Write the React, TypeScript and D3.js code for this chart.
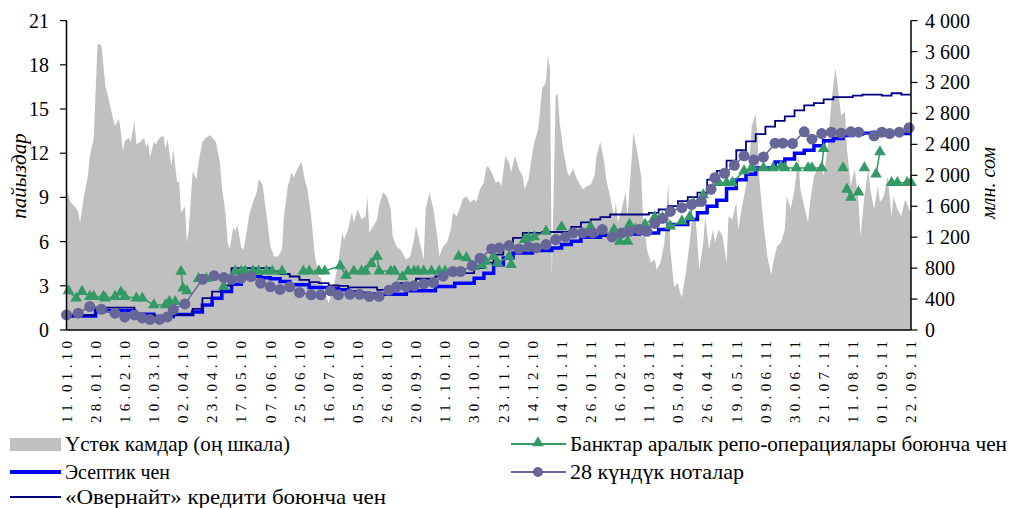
import React from 'react';
import * as d3 from 'd3';

const W = 1010;
const H = 508;

// x-axis: trading-day index, one label every 15 trading days
const tickLabels = ['11.01.10','28.01.10','16.02.10','10.03.10','02.04.10','23.04.10','17.05.10','07.06.10','25.06.10','16.07.10','05.08.10','26.08.10','20.09.10','11.10.10','30.10.10','23.11.10','14.12.10','04.01.11','26.01.11','16.02.11','11.03.11','05.04.11','26.04.11','19.05.11','09.06.11','30.06.11','21.07.11','11.08.11','01.09.11','22.09.11'];
const daysPerTick = 15;
const lastDay = 435;

const leftTicks = [0, 3, 6, 9, 12, 15, 18, 21];
const rightTicks = [0, 400, 800, 1200, 1600, 2000, 2400, 2800, 3200, 3600, 4000];

// Excess reserves, mln som (right scale)
const reserveDays = [0,2,4,6,7,9,11,12,14,16,18,20,22,24,25,27,28,29,30,32,33,35,36,38,40,41,42,43,45,46,48,50,51,52,54,55,57,58,59,61,62,63,65,67,68,70,72,74,75,77,79,80,82,83,84,86,87,88,90,91,92,94,96,98,99,101,102,104,105,107,109,111,112,114,116,117,119,121,123,124,126,128,130,131,133,135,136,138,140,142,143,145,147,148,150,152,154,155,156,158,160,161,163,165,167,168,170,172,173,175,177,179,180,182,184,185,187,189,191,192,194,196,198,199,201,203,204,206,208,210,211,213,215,216,217,219,221,223,224,226,228,229,231,233,235,236,238,240,241,243,245,247,248,249,250,252,253,254,256,258,259,261,263,265,266,268,270,272,273,275,277,278,280,282,283,284,286,288,289,291,292,294,296,297,299,301,303,304,306,308,310,311,313,315,316,317,319,321,322,324,326,328,329,331,333,334,336,338,340,341,343,345,346,348,350,352,353,355,356,357,359,361,363,364,366,368,370,371,373,375,377,378,380,382,383,385,387,389,390,392,394,396,397,399,401,402,404,406,408,409,411,413,414,416,418,419,421,423,425,426,428,430,432,434,435];
const reserveValues = [1820,1650,1600,1530,1390,1730,1990,2250,2470,3700,3680,3160,2950,2730,2640,2730,2560,2310,2440,2490,2430,2700,2400,2430,2490,2360,2430,2230,2430,2400,2490,2510,2340,2470,2120,2340,1910,1920,1520,1600,1130,1300,2050,1950,2170,2430,2490,2520,2490,2430,2170,1860,1490,1130,1040,1340,1270,1360,1070,1040,1140,1470,1650,1780,1950,1880,1690,1300,1080,950,950,1040,1470,1860,2040,1970,2080,2180,1910,1840,1470,950,690,680,480,350,430,610,870,1260,1170,1300,1520,1390,1560,1430,1470,1730,1260,1340,1430,1600,1780,1730,1560,1210,1080,1040,1000,910,950,1170,1340,1130,910,1560,1780,1560,1210,950,1080,1130,1300,1520,1470,1600,1690,1730,1650,1690,1650,1820,1910,2080,2120,2040,1910,1920,1860,2250,2170,2040,2250,2080,1990,1820,1950,2300,2430,2600,3120,3210,3550,3380,690,3030,3050,2690,2300,2040,1990,2080,1950,1860,1820,1860,1880,1990,2250,2430,2170,1950,1730,1470,1650,1390,1560,1780,1470,2170,2560,2300,1990,1470,1040,870,910,780,870,1130,1910,1040,560,610,480,420,740,1130,1390,1470,780,1130,1470,1040,1300,1130,1300,1210,870,1470,1430,1650,1300,1600,1860,2250,2640,2790,2470,1910,1390,950,710,870,1080,1130,1300,1730,1560,1820,2250,1820,1600,1390,1650,1990,2080,2170,1990,2340,2950,3380,3210,2770,2820,2340,1860,2080,1650,1210,1730,2080,1820,1560,1860,1650,1730,1990,1470,1730,1560,1470,1690,1560,1500];

// Weekly step series, % (left scale)
const weekDays = d3.range(0, lastDay + 1, 5);
const discountRate = [0.95,0.95,0.95,1.3,1.3,1.3,1.3,1.07,1.07,0.91,
  0.91,1.05,1.05,1.23,1.7,2.16,2.61,3.11,3.63,3.63,
  3.55,3.48,3.29,3.07,3.07,2.89,2.89,2.8,2.73,2.6,
  2.5,2.45,2.43,2.43,2.43,2.66,2.66,2.66,2.95,2.95,
  3.18,3.18,3.52,3.86,4.43,4.89,5.23,5.23,5.39,5.39,
  5.57,5.8,6.02,6.29,6.29,6.43,6.43,6.52,6.52,6.59,
  6.59,6.82,7.16,7.16,7.5,7.95,8.4,8.8,9.6,10.2,
  10.57,11.0,11.0,11.4,11.6,12.0,12.2,12.5,12.84,13.0,
  13.2,13.3,13.36,13.4,13.4,13.36,13.34,13.34];
const overnightRate = [1.0,1.0,1.0,1.52,1.52,1.52,1.52,1.1,1.0,0.95,
  0.95,1.02,1.02,1.43,2.16,2.61,3.02,4.2,4.2,4.2,
  4.2,3.98,3.8,3.63,3.4,3.25,3.18,3.02,3.0,2.89,
  2.89,2.89,2.73,2.89,3.18,3.18,3.48,3.48,3.63,3.86,
  3.86,3.86,4.2,4.57,5.11,5.68,6.25,6.59,6.59,6.65,
  6.65,6.65,7.0,7.3,7.5,7.66,7.84,7.84,7.84,7.84,
  7.95,8.18,8.41,8.75,9.02,9.32,10.2,10.8,11.5,12.2,
  12.8,13.3,13.8,14.2,14.5,14.9,15.25,15.4,15.65,15.8,
  15.8,15.91,15.97,15.97,15.91,16.07,15.97,15.97];

// 28-day notes yield, %
const notesDays = [0,6,12,18,25,30,35,39,43,48,52,55,61,70,76,81,85,90,95,100,105,110,115,120,126,131,136,140,146,151,156,161,166,170,175,179,184,189,194,199,203,209,213,219,223,228,233,238,242,247,252,257,261,266,271,276,281,286,290,295,299,303,307,311,317,322,327,332,334,339,344,349,354,359,365,369,374,380,384,389,394,399,404,408,416,420,424,429,434];
const notesRate = [1.02,1.14,1.59,1.40,1.14,0.89,1.02,0.82,0.72,0.72,0.89,1.38,1.77,3.44,3.68,3.56,3.44,3.52,3.63,3.18,2.93,2.75,2.93,2.54,2.39,2.39,2.66,2.39,2.42,2.42,2.28,2.28,2.69,2.93,2.93,3.0,3.14,3.22,3.65,3.97,3.97,4.36,4.87,5.5,5.57,5.73,5.5,5.64,5.57,5.8,6.14,6.32,6.59,6.59,6.59,6.82,6.32,6.59,6.7,6.82,6.7,7.23,7.57,8.05,8.3,8.52,8.73,9.55,10.34,10.64,11.18,11.82,11.54,11.74,12.68,12.68,12.65,13.45,12.95,13.33,13.43,13.36,13.45,13.43,13.18,13.43,13.33,13.43,13.72];

// Interbank repo rate, %  (days without trades break the line)
const repoDays = [1,5,8,12,14,19,20,25,28,30,36,39,45,51,53,56,59,60,62,68,72,81,87,90,92,96,99,103,106,111,122,125,130,133,141,144,148,152,154,157,160,161,167,169,173,176,179,181,184,188,192,195,202,206,210,214,216,220,222,228,229,236,238,241,247,255,270,282,285,289,290,293,298,303,307,311,317,321,323,328,336,340,343,349,353,359,364,368,370,376,382,384,389,390,400,402,404,408,411,417,419,425,428,433,435];
const repoRate = [2.66,2.16,2.61,2.27,2.27,2.27,2.16,2.27,2.57,2.27,2.16,2.16,1.7,1.7,1.93,1.93,3.97,2.84,2.66,3.48,3.48,2.95,4.0,4.0,4.0,4.0,4.0,4.0,4.0,4.0,4.0,4.0,4.0,4.0,4.35,3.7,4.0,4.0,4.0,4.5,5.0,4.0,4.0,4.0,3.6,4.0,4.0,4.0,4.0,4.0,4.0,4.0,5.0,4.9,4.3,4.4,4.66,5.0,4.55,5.0,4.43,6.14,6.25,6.32,6.7,7.0,7.0,6.82,6.02,6.02,7.16,6.82,7.16,7.68,7.62,7.04,7.38,7.68,8.59,9.17,10.0,10.0,10.0,10.8,11.0,11.0,11.0,11.1,11.0,11.0,11.0,11.0,11.0,12.3,11.0,9.55,9.0,9.36,11.0,10.57,12.09,10.0,10.0,10.0,10.0];
const repoGapStarts = [59, 68, 81, 87, 122, 202, 236, 255, 270, 282, 336, 400, 402, 411, 417, 425];

const legendLeft = ['Үстөк камдар (оң шкала)', 'Эсептик чен', '«Овернайт» кредити боюнча чен'];
const legendRight = ['Банктар аралык репо-операциялары боюнча чен', '28 күндүк ноталар'];

const C_GRAY = '#C0C0C0';
const C_BLUE = '#0000FF';
const C_NAVY = '#000080';
const C_GREEN = '#339966';
const C_NOTE = '#666699';
const FONT = "'Liberation Serif', 'Times New Roman', 'DejaVu Serif', serif";
const TS: React.CSSProperties = { fontFamily: FONT };

export default function App() {
  const x = d3.scaleLinear().domain([0, lastDay]).range([66.5, 911]);
  const yL = d3.scaleLinear().domain([0, 21]).range([330, 20.6]);
  const yR = d3.scaleLinear().domain([0, 4000]).range([330, 20.6]);

  const reserves = reserveDays.map((d, i) => ({ d, v: reserveValues[i] }));
  const areaPath = d3.area<{ d: number; v: number }>()
    .x(p => x(p.d)).y0(yR(0)).y1(p => yR(p.v))(reserves) || '';

  const stepLine = d3.line<[number, number]>().x(p => x(p[0])).y(p => yL(p[1])).curve(d3.curveStepAfter);
  const disc: [number, number][] = weekDays.map((d, i) => [d, discountRate[i]]);
  disc.push([lastDay, discountRate[discountRate.length - 1]]);
  const over: [number, number][] = weekDays.map((d, i) => [d, overnightRate[i]]);
  over.push([lastDay, overnightRate[overnightRate.length - 1]]);

  const plainLine = d3.line<[number, number]>().x(p => x(p[0])).y(p => yL(p[1]));
  const repo: [number, number][] = repoDays.map((d, i) => [d, repoRate[i]]);
  const repoSegments: [number, number][][] = [];
  repo.forEach(p => {
    if (repoSegments.length === 0 || repoGapStarts.includes(p[0])) repoSegments.push([]);
    repoSegments[repoSegments.length - 1].push(p);
  });
  const notes: [number, number][] = notesDays.map((d, i) => [d, notesRate[i]]);

  const tri = d3.symbol().type(d3.symbolTriangle).size(58)() || '';

  return (
    <div style={{ position: 'absolute', left: 0, top: 0 }}>
      <svg width={W} height={H} style={{ display: 'block', background: '#fff', fontFamily: FONT }}>
        <path d={areaPath} fill={C_GRAY} />
        <path d={stepLine(disc) || ''} fill="none" stroke={C_BLUE} strokeWidth={3.5} />
        <path d={stepLine(over) || ''} fill="none" stroke={C_NAVY} strokeWidth={1.8} />
        {repoSegments.map((s, i) => (
          <path key={'rs' + i} d={plainLine(s) || ''} fill="none" stroke={C_GREEN} strokeWidth={1.5} />
        ))}
        {repo.map((p, i) => (
          <path key={'t' + i} d={tri} transform={`translate(${x(p[0])},${yL(p[1])})`} fill={C_GREEN} />
        ))}
        <path d={plainLine(notes) || ''} fill="none" stroke={C_NOTE} strokeWidth={1.5} />
        {notes.map((p, i) => (
          <circle key={'c' + i} cx={x(p[0])} cy={yL(p[1])} r={5.5} fill={C_NOTE} />
        ))}

        {/* axes */}
        <line x1={66.5} x2={66.5} y1={yL(21)} y2={330} stroke="#000" strokeWidth={1.5} />
        <line x1={911} x2={911} y1={yR(4000)} y2={330} stroke="#000" strokeWidth={1.5} />
        <line x1={66.5} x2={911} y1={330} y2={330} stroke="#000" strokeWidth={1.5} />
        {leftTicks.map(t => (
          <g key={'l' + t}>
            <line x1={60} x2={66.5} y1={yL(t)} y2={yL(t)} stroke="#000" strokeWidth={1.2} />
            <text style={TS} x={49} y={yL(t)} dy="0.35em" textAnchor="end" fontSize={20}>{t}</text>
          </g>
        ))}
        {rightTicks.map(t => (
          <g key={'r' + t}>
            <line x1={911} x2={917.5} y1={yR(t)} y2={yR(t)} stroke="#000" strokeWidth={1.2} />
            <text style={TS} x={925} y={yR(t)} dy="0.35em" textAnchor="start" fontSize={20}>{d3.format(',')(t).replace(',', ' ')}</text>
          </g>
        ))}
        {tickLabels.map((lab, i) => (
          <text key={'x' + i} style={TS} transform={`translate(${x(i * daysPerTick)},341) rotate(-90)`} dy="0.35em"
            textAnchor="end" fontSize={15} textLength={82} lengthAdjust="spacing">{lab}</text>
        ))}
        <text style={TS} transform="translate(19,176) rotate(-90)" dy="0.35em" textAnchor="middle" fontSize={21} fontStyle="italic">пайыздар</text>
        <text style={TS} transform="translate(988,183) rotate(-90)" dy="0.35em" textAnchor="middle" fontSize={20} fontStyle="italic">млн. сом</text>

        {/* legend */}
        <rect x={10} y={438} width={51} height={13} fill={C_GRAY} />
        <line x1={10} x2={61} y1={472} y2={472} stroke={C_BLUE} strokeWidth={4} />
        <line x1={10} x2={61} y1={497} y2={497} stroke={C_NAVY} strokeWidth={2} />
        {legendLeft.map((t, i) => (
          <text key={'ll' + i} style={TS} x={65} y={[444, 472, 497][i]} dy="0.35em" fontSize={21}
            textLength={[225, 105, 321][i]} lengthAdjust="spacingAndGlyphs">{t}</text>
        ))}
        <line x1={511} x2={566} y1={444} y2={444} stroke={C_GREEN} strokeWidth={2} />
        <path d={tri} transform="translate(538,443)" fill={C_GREEN} />
        <line x1={511} x2={566} y1={472} y2={472} stroke={C_NOTE} strokeWidth={2} />
        <circle cx={538} cy={472} r={5} fill={C_NOTE} />
        {legendRight.map((t, i) => (
          <text key={'lr' + i} style={TS} x={570} y={[444, 472][i]} dy="0.35em" fontSize={21}
            textLength={[437, 174][i]} lengthAdjust="spacingAndGlyphs">{t}</text>
        ))}
      </svg>
    </div>
  );
}
